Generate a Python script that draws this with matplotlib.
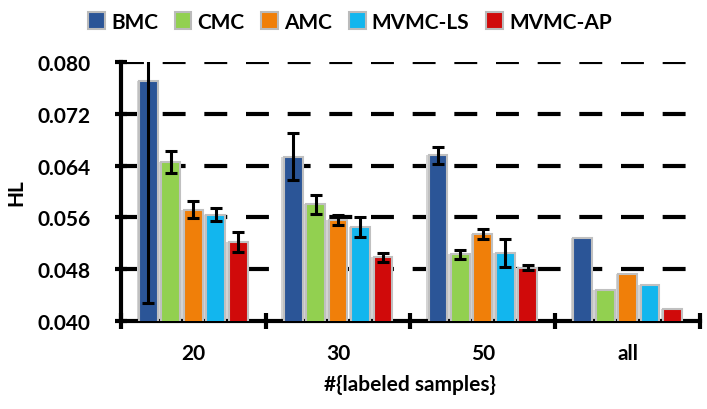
import matplotlib
matplotlib.use("Agg")
import matplotlib.pyplot as plt
import numpy as np
from matplotlib.patches import Patch

categories = ["20", "30", "50", "all"]
methods = ["BMC", "CMC", "AMC", "MVMC-LS", "MVMC-AP"]
colors = ["#2B5597", "#92D050", "#F07F09", "#12B6EE", "#D00A0A"]

bmc = [0.0771, 0.0654, 0.0656, 0.0528]
cmc = [0.0645, 0.0580, 0.0503, 0.0448]
amc = [0.0572, 0.0556, 0.0534, 0.0473]
mvmc_ls = [0.0564, 0.0545, 0.0505, 0.0456]
mvmc_ap = [0.0522, 0.0498, 0.0482, 0.0419]

bmc_err = [0.0343, 0.0037, 0.0013, 0.0]
cmc_err = [0.0017, 0.0015, 0.0007, 0.0]
amc_err = [0.0013, 0.0008, 0.0008, 0.0]
mvmc_ls_err = [0.0010, 0.0016, 0.0022, 0.0]
mvmc_ap_err = [0.0016, 0.0007, 0.0004, 0.0]

values = [bmc, cmc, amc, mvmc_ls, mvmc_ap]
errors = [bmc_err, cmc_err, amc_err, mvmc_ls_err, mvmc_ap_err]

yticks = [0.040, 0.048, 0.056, 0.064, 0.072, 0.080]

plt.rcParams['font.family'] = ['Lato', 'DejaVu Sans']
plt.rcParams['font.weight'] = 'bold'

fig = plt.figure(figsize=(7.07, 4.10), dpi=100)
ax = fig.add_axes([0.171, 0.215, 0.819, 0.631])

x = np.arange(len(categories))
pitch = 0.155
width = 0.13
for i, (vals, errs, col) in enumerate(zip(values, errors, colors)):
    pos = x + (i - 2) * pitch
    # shadow
    ax.bar(pos - 0.012, vals, width=width + 0.01, bottom=0, color="#d4d4d4",
           edgecolor="none", zorder=2)
    ax.bar(pos, vals, width=width, color=col, edgecolor="#c0c0c0",
           linewidth=1.5, zorder=3)
    e = np.array(errs)
    mask = e > 0
    ax.errorbar(pos[mask], np.array(vals)[mask], yerr=e[mask], fmt="none",
                ecolor="black", elinewidth=2.2, capsize=4, capthick=2.2, zorder=4)

ax.set_ylim(0.040, 0.080)
ax.set_xlim(-0.5, 3.5)
ax.set_yticks(yticks)
ax.set_yticklabels([f"{v:.3f}" for v in yticks], fontsize=15, fontweight="bold")
for v in yticks[1:]:
    ax.axhline(v, color="black", lw=3, ls=(0, (5.5, 4.5)), zorder=1)

ax.set_xticks([-0.5, 0.5, 1.5, 2.5, 3.5])
ax.set_xticklabels([])
ax.set_xticks(x, minor=True)
ax.set_xticklabels(categories, minor=True, fontsize=15, fontweight="bold")
ax.tick_params(axis="x", which="major", direction="inout", length=12, width=3)
ax.tick_params(axis="x", which="minor", length=0, pad=16)
ax.tick_params(axis="y", direction="inout", length=8, width=3, pad=18)

for s in ["top", "right"]:
    ax.spines[s].set_visible(False)
for s in ["left", "bottom"]:
    ax.spines[s].set_linewidth(3)

ax.set_ylabel("HL", fontsize=15, fontweight="bold", labelpad=8)
ax.set_xlabel("#{labeled samples}", fontsize=15, fontweight="bold", labelpad=8)

handles = [Patch(facecolor=c, edgecolor="#bbbbbb", linewidth=1.5) for c in colors]
fig.legend(handles, methods, loc="upper center", bbox_to_anchor=(0.495, 1.015),
           ncol=5, frameon=False, handlelength=0.8, handleheight=0.85,
           handletextpad=0.3, columnspacing=0.8, prop={"weight": "bold", "size": 15})

fig.savefig("out.png", dpi=100)
